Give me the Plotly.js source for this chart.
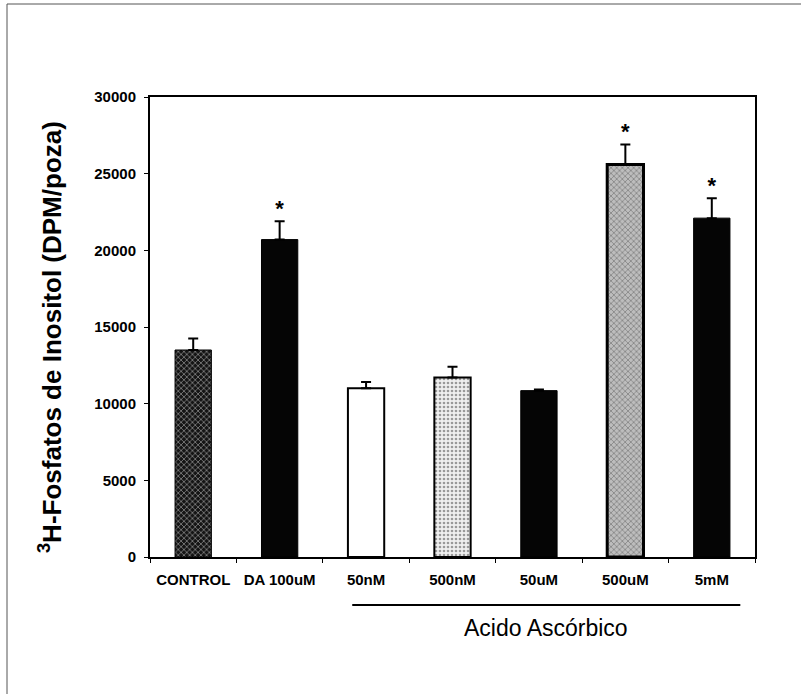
<!DOCTYPE html>
<html>
<head>
<meta charset="utf-8">
<script src="https://cdn.plot.ly/plotly-3.0.1.min.js"></script>
<style>html,body{margin:0;padding:0;background:#fff;}#chart{width:801px;height:694px;}</style>
</head>
<body>
<div id="chart"></div>
<script>
// Data
const categories = ["CONTROL", "DA 100uM", "50nM", "500nM", "50uM", "500uM", "5mM"];
const values = [13500, 20700, 11000, 11700, 10850, 25600, 22100];
const errors = [750, 1200, 420, 700, 80, 1300, 1300];
const significant = [false, true, false, false, false, true, true];
const yTicks = [0, 5000, 10000, 15000, 20000, 25000, 30000];
const yTitle = "<sup>3</sup>H-Fosfatos de Inositol (DPM/poza)";
const groupLabel = "Acido Ascórbico";

// Styles
const barColors = ["#141414", "#050505", "#ffffff", "#efefef", "#050505", "#bdbdbd", "#050505"];
const patternShapes = ["x", "", "", ".", "", "x", ""];
const patternFg = ["#707070", "#050505", "#ffffff", "#9a9a9a", "#050505", "#3c3c3c", "#050505"];
const lineWidths = [1, 1, 2, 2, 1, 3, 1];

const starX = categories.filter((c, i) => significant[i]);
const starY = values.map((v, i) => v + errors[i]).filter((v, i) => significant[i]);

const bars = {
  type: "bar",
  x: categories,
  y: values,
  width: 0.42,
  marker: {
    color: barColors,
    line: {color: "#000", width: lineWidths},
    pattern: {shape: patternShapes, fgcolor: patternFg, size: 4, solidity: 0.35, fillmode: "overlay"}
  },
  error_y: {type: "data", symmetric: false, array: errors, arrayminus: errors.map(() => 0), color: "#000", thickness: 2, width: 5},
  hoverinfo: "skip",
  showlegend: false
};

const stars = {
  type: "scatter",
  mode: "text",
  x: starX,
  y: starY,
  text: starX.map(() => "*"),
  textposition: "top center",
  textfont: {family: "Liberation Sans, Arial, sans-serif", size: 22, color: "#000", weight: "bold"},
  hoverinfo: "skip",
  showlegend: false,
  cliponaxis: false
};

const layout = {
  width: 801,
  height: 694,
  margin: {l: 150, r: 46, t: 97, b: 137},
  paper_bgcolor: "#fff",
  plot_bgcolor: "#fff",
  showlegend: false,
  font: {family: "Liberation Sans, Arial, sans-serif", color: "#000"},
  xaxis: {
    type: "category",
    range: [-0.5, 6.5],
    showline: true, linecolor: "#000", linewidth: 2, mirror: true,
    ticks: "outside", tickson: "boundaries", ticklen: 4, tickcolor: "#000", tickwidth: 1,
    showgrid: false, zeroline: false,
    tickfont: {family: "Liberation Sans, Arial, sans-serif", size: 15, color: "#000", weight: "bold"},
    ticklabelstandoff: 8
  },
  yaxis: {
    range: [0, 30000],
    tickvals: yTicks,
    ticktext: yTicks.map(String),
    showline: true, linecolor: "#000", linewidth: 2, mirror: true,
    ticks: "outside", ticklen: 4, tickcolor: "#000", tickwidth: 1,
    showgrid: false, zeroline: false,
    tickfont: {family: "Liberation Sans, Arial, sans-serif", size: 15, color: "#000", weight: "bold"},
    ticklabelstandoff: 5
  },
  annotations: [
    {text: yTitle, xref: "paper", yref: "paper", x: (50 - 150) / 605, y: (557 - 337) / 460,
     xanchor: "center", yanchor: "middle", textangle: -90, showarrow: false,
     font: {family: "Liberation Sans, Arial, sans-serif", size: 26, color: "#000", weight: "bold"}},
    {text: groupLabel, xref: "x", yref: "paper", x: 4.08, y: (557 - 628) / 460,
     xanchor: "center", yanchor: "middle", showarrow: false,
     font: {family: "Liberation Sans, Arial, sans-serif", size: 23, color: "#000"}}
  ],
  shapes: [
    {type: "line", xref: "x", yref: "paper", x0: 1.84, x1: 6.33, y0: (557 - 605) / 460, y1: (557 - 605) / 460,
     line: {color: "#000", width: 2}},
    {type: "line", xref: "paper", yref: "paper", x0: (7 - 150) / 605, x1: (7 - 150) / 605, y0: (557 - 4) / 460, y1: (557 - 694) / 460,
     line: {color: "#555", width: 1}},
    {type: "line", xref: "paper", yref: "paper", x0: (7 - 150) / 605, x1: (801 - 150) / 605, y0: (557 - 4) / 460, y1: (557 - 4) / 460,
     line: {color: "#555", width: 1}}
  ]
};

Plotly.newPlot("chart", [bars, stars], layout, {staticPlot: true, displayModeBar: false});
</script>
</body>
</html>
